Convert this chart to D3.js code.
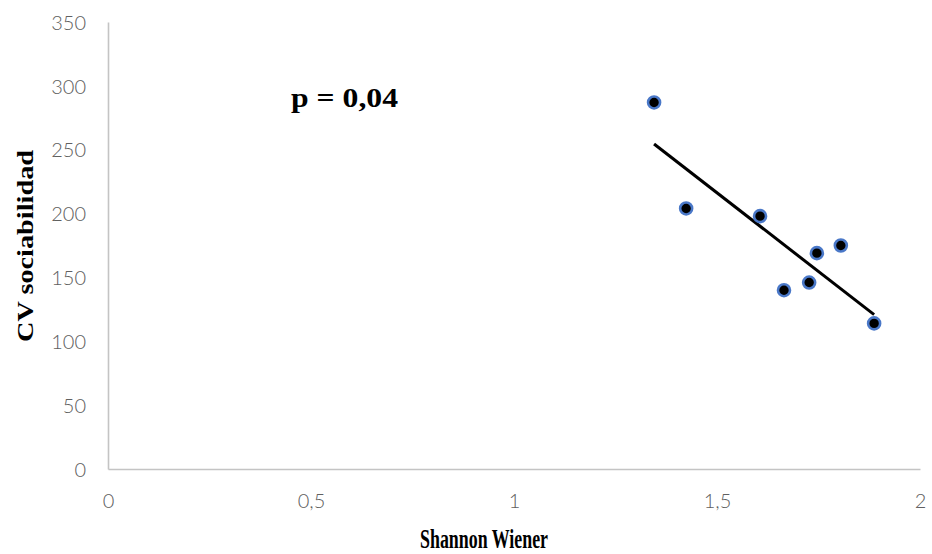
<!DOCTYPE html>
<html>
<head>
<meta charset="utf-8">
<script src="https://cdn.jsdelivr.net/npm/d3@7"></script>
<style>
  html, body { margin: 0; padding: 0; background: #fff; }
  svg { display: block; }
</style>
</head>
<body>
<svg id="chart" width="932" height="554"></svg>
<script>
// Shannon Wiener diversity index vs. coefficient of variation of sociability
const shannon = [1.345, 1.424, 1.606, 1.665, 1.727, 1.746, 1.805, 1.887];
const cvSociabilidad = [287, 204, 198, 140, 146, 169, 175, 114];
const xTicks = [0, 0.5, 1, 1.5, 2];
const yTicks = [0, 50, 100, 150, 200, 250, 300, 350];
const pLabel = "p = 0,04";

const svg = d3.select("#chart");
const x = d3.scaleLinear().domain([0, 2]).range([108, 920]);
const y = d3.scaleLinear().domain([0, 350]).range([469, 22]);
const comma = v => String(v).replace(".", ",");

// axes: plain grey lines, no tick marks
const xAxis = svg.append("g").attr("transform", `translate(0,${y(0)})`)
  .call(d3.axisBottom(x).tickValues(xTicks).tickFormat(comma).tickSize(0).tickPadding(25));
const yAxis = svg.append("g").attr("transform", `translate(${x(0)},0)`)
  .call(d3.axisLeft(y).tickValues(yTicks).tickSize(0).tickPadding(22));

[xAxis, yAxis].forEach(g => {
  g.select(".domain").attr("stroke", "#c4c4c4").attr("stroke-width", 1.6);
  g.selectAll("text")
    .attr("fill", "#606060")
    .style("font-family", "Lato, 'Open Sans', sans-serif")
    .style("font-weight", "300")
    .style("font-size", "20px");
});
yAxis.selectAll("text").attr("dy", "0.36em");

// least-squares trend line over the data range
const mx = d3.mean(shannon), my = d3.mean(cvSociabilidad);
const sxy = d3.sum(shannon, (v, i) => (v - mx) * (cvSociabilidad[i] - my));
const sxx = d3.sum(shannon, v => (v - mx) * (v - mx));
const slope = sxy / sxx, intercept = my - slope * mx;
const [x0, x1] = d3.extent(shannon);
svg.append("line")
  .attr("x1", x(x0)).attr("y1", y(intercept + slope * x0))
  .attr("x2", x(x1)).attr("y2", y(intercept + slope * x1))
  .attr("stroke", "#000").attr("stroke-width", 3);

// data points
svg.append("g").selectAll("circle")
  .data(shannon.map((v, i) => [v, cvSociabilidad[i]]))
  .join("circle")
  .attr("cx", d => x(d[0]))
  .attr("cy", d => y(d[1]))
  .attr("r", 6)
  .attr("fill", "#000")
  .attr("stroke", "#4a78c8")
  .attr("stroke-width", 2.6);

// significance label
svg.append("text")
  .attr("x", 291).attr("y", 107)
  .attr("textLength", 107).attr("lengthAdjust", "spacingAndGlyphs")
  .style("font-family", "'Liberation Serif', 'Times New Roman', serif")
  .style("font-weight", "bold").style("font-size", "28px")
  .text(pLabel);

// axis titles
svg.append("text")
  .attr("transform", "translate(484,548) scale(1,1.5)")
  .attr("text-anchor", "middle")
  .attr("textLength", 128).attr("lengthAdjust", "spacingAndGlyphs")
  .style("font-family", "'Liberation Serif', 'Times New Roman', serif")
  .style("font-weight", "bold").style("font-size", "18px")
  .text("Shannon Wiener");

svg.append("text")
  .attr("transform", "translate(33,246) rotate(-90)")
  .attr("text-anchor", "middle")
  .attr("textLength", 192).attr("lengthAdjust", "spacingAndGlyphs")
  .style("font-family", "'Liberation Serif', 'Times New Roman', serif")
  .style("font-weight", "bold").style("font-size", "24px")
  .text("CV sociabilidad");
</script>
</body>
</html>
